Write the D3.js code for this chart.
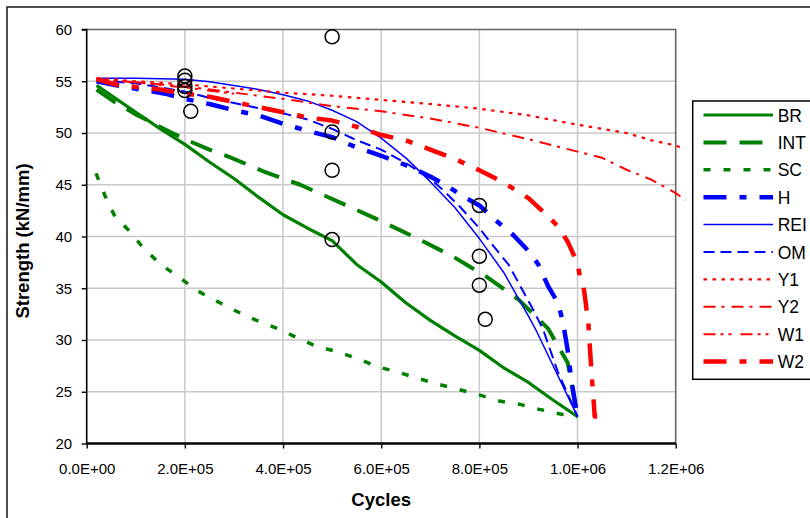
<!DOCTYPE html>
<html>
<head>
<meta charset="utf-8">
<script src="https://cdn.jsdelivr.net/npm/d3@7/dist/d3.min.js"></script>
<style>
  html, body { margin: 0; padding: 0; background: #fff; }
  svg { display: block; font-family: "Liberation Sans", Arial, sans-serif; }
</style>
</head>
<body>
<svg id="chart" width="810" height="518"></svg>
<script>
// Strength (kN/mm) against number of cycles, one array of [cycles, strength] per model
const BR  = [[2e4,54.6],[1e5,52.0],[1.5e5,50.4],[2e5,48.9],[2.5e5,47.2],[3e5,45.6],[3.5e5,43.8],[4e5,42.1],[4.5e5,40.8],[5e5,39.6],[5.5e5,37.3],[6e5,35.6],[6.5e5,33.6],[7e5,31.9],[7.5e5,30.4],[8e5,29.0],[8.5e5,27.3],[9e5,25.9],[9.5e5,24.2],[1e6,22.6]];
const INT = [[2e4,54.2],[6e4,52.9],[1e5,51.8],[1.7e5,50.1],[2.1e5,49.2],[2.5e5,48.4],[2.9e5,47.7],[3.6e5,46.3],[4e5,45.6],[4.35e5,45.0],[5.2e5,43.2],[5.9e5,41.7],[6.7e5,39.9],[7.45e5,38.1],[8.15e5,36.1],[8.8e5,33.9],[9.4e5,31.1],[9.8e5,27.8],[9.95e5,23.9],[1e6,22.6]];
const SC  = [[1.9e4,46.1],[4.1e4,43.5],[5.8e4,41.9],[9.2e4,40.3],[1.15e5,38.9],[1.51e5,37.3],[1.87e5,36.1],[2.24e5,34.8],[2.63e5,33.8],[3.04e5,32.8],[3.46e5,31.9],[3.89e5,31.1],[4.3e5,30.2],[4.67e5,29.4],[5.08e5,28.9],[5.52e5,28.2],[5.93e5,27.4],[6.34e5,26.9],[6.74e5,26.3],[7.18e5,25.7],[7.59e5,25.2],[8e5,24.7],[8.41e5,24.1],[8.81e5,23.8],[9.22e5,23.3],[9.7e5,22.8],[1e6,22.6]];
const H   = [[2e4,55.0],[6e4,54.6],[1.1e5,54.2],[1.6e5,53.8],[2e5,53.3],[2.5e5,52.8],[3e5,52.2],[3.5e5,51.7],[4e5,50.9],[4.5e5,50.2],[5e5,49.6],[5.5e5,48.6],[6e5,47.8],[6.5e5,46.9],[7e5,45.8],[7.3e5,45.0],[7.7e5,43.8],[8e5,43.0],[8.3e5,41.7],[8.7e5,40.1],[9e5,38.6],[9.2e5,37.3],[9.4e5,35.2],[9.6e5,33.6],[9.7e5,31.8],[9.8e5,29.0],[9.87e5,26.3],[9.95e5,23.9],[1e6,22.6]];
const REI = [[2e4,55.3],[1e5,55.3],[2e5,55.2],[2.5e5,54.95],[3e5,54.6],[3.5e5,54.2],[4e5,53.7],[4.5e5,53.1],[5e5,52.2],[5.5e5,51.1],[6e5,49.5],[6.5e5,47.6],[7e5,45.3],[7.5e5,42.8],[8e5,39.8],[8.5e5,36.5],[9e5,32.3],[9.17e5,30.8],[1e6,22.6]];
const OM  = [[2e4,55.1],[1e5,54.8],[1.5e5,54.4],[2e5,54.0],[2.5e5,53.4],[3e5,52.9],[3.5e5,52.4],[4e5,51.9],[4.5e5,51.3],[5e5,50.4],[5.5e5,49.3],[6e5,48.4],[6.5e5,47.1],[7e5,45.6],[7.3e5,44.3],[7.6e5,42.9],[8e5,40.8],[8.3e5,39.0],[8.6e5,37.25],[8.8e5,35.5],[9.1e5,32.9],[9.3e5,31.0],[9.6e5,26.9],[9.8e5,24.8],[1e6,22.6]];
const Y1  = [[2e4,55.3],[1e5,55.0],[2e5,54.7],[3e5,54.3],[4e5,53.9],[5e5,53.6],[6e5,53.2],[7e5,52.8],[8e5,52.35],[9e5,51.7],[1e6,50.8],[1.05e6,50.4],[1.1e6,50.0],[1.15e6,49.3],[1.2e6,48.8],[1.215e6,48.5]];
const Y2  = [[2e4,55.2],[1e5,54.9],[2e5,54.5],[3e5,53.9],[4e5,53.3],[5e5,52.6],[6e5,52.1],[7e5,51.4],[8e5,50.5],[9e5,49.4],[1e6,48.2],[1.05e6,47.6],[1.1e6,46.45],[1.15e6,45.5],[1.2e6,44.2],[1.22e6,43.5]];
const W1  = [[2e4,55.2],[1e5,54.9],[2e5,54.4],[3e5,53.8]];
const W2  = [[2e4,55.2],[6.6e4,54.6],[1.1e5,54.4],[1.5e5,54.2],[2e5,53.8],[2.5e5,53.5],[3e5,53.0],[3.5e5,52.5],[4e5,52.0],[4.5e5,51.5],[5e5,51.2],[5.5e5,50.6],[6e5,49.8],[6.5e5,49.3],[7e5,48.4],[7.5e5,47.5],[8e5,46.4],[8.5e5,45.2],[9e5,43.7],[9.3e5,42.4],[9.6e5,41.0],[9.8e5,39.5],[1e6,37.4],[1.005e6,36.1],[1.012e6,35.2],[1.015e6,34.2],[1.022e6,31.6],[1.029e6,26.5],[1.033e6,24.0],[1.035e6,22.6],[1.04e6,22.6]];

// Measured test results (open circles)
const testCycles   = [2e5, 2e5, 2e5, 2e5, 2.12e5, 5e5, 5e5, 5e5, 5e5, 8e5, 8e5, 8e5, 8.12e5];
const testStrength = [55.5, 55.1, 54.5, 54.1, 52.1, 59.3, 50.1, 46.4, 39.7, 43.0, 38.1, 35.3, 32.0];

// Axis ticks
const xTicks = [0, 2e5, 4e5, 6e5, 8e5, 1e6, 1.2e6];
const xTickLabels = ["0.0E+00", "2.0E+05", "4.0E+05", "6.0E+05", "8.0E+05", "1.0E+06", "1.2E+06"];
const yTicks = [20, 25, 30, 35, 40, 45, 50, 55, 60];
const yTickLabels = ["20", "25", "30", "35", "40", "45", "50", "55", "60"];

const seriesNames = ["BR", "INT", "SC", "H", "REI", "OM", "Y1", "Y2", "W1", "W2"];
const seriesData  = [BR, INT, SC, H, REI, OM, Y1, Y2, W1, W2];

const GREEN = "#008000", BLUE = "#0000ff", RED = "#ff0000";
const styles = {
  BR:  { color: GREEN, width: 3.2, dash: null },
  INT: { color: GREEN, width: 4,   dash: "23,13" },
  SC:  { color: GREEN, width: 3.5, dash: "7,13" },
  H:   { color: BLUE,  width: 4.5, dash: "23,13,7,13" },
  REI: { color: BLUE,  width: 1.5, dash: null },
  OM:  { color: BLUE,  width: 2,   dash: "11,6" },
  Y1:  { color: RED,   width: 2.2, dash: "3.5,5.5" },
  Y2:  { color: RED,   width: 2,   dash: "12,6,3,7" },
  W1:  { color: RED,   width: 2,   dash: "12,5,3,5,3,9" },
  W2:  { color: RED,   width: 4.5, dash: "23,13,7,13" }
};

const svg = d3.select("#chart");
const x = d3.scaleLinear().domain([0, 1.2e6]).range([86.7, 675.7]);
const y = d3.scaleLinear().domain([20, 60]).range([443.5, 29.5]);

// Outer chart frame
svg.append("rect").attr("x", 7).attr("y", 7).attr("width", 900).attr("height", 600)
  .attr("fill", "#fff").attr("stroke", "#222").attr("stroke-width", 1.6);

// Gridlines
const grid = svg.append("g");
grid.selectAll("line.h").data(yTicks.slice(1, -1)).join("line")
  .attr("x1", x(0)).attr("x2", x(1.2e6))
  .attr("y1", d => y(d)).attr("y2", d => y(d))
  .attr("stroke", "#c8c8c8").attr("stroke-width", 1.5);
grid.selectAll("line.v").data(xTicks.slice(1, -1)).join("line")
  .attr("y1", y(20)).attr("y2", y(60))
  .attr("x1", d => x(d)).attr("x2", d => x(d))
  .attr("stroke", "#c8c8c8").attr("stroke-width", 1.5);

// Plot frame, top and right
svg.append("path")
  .attr("d", `M${x(0)},${y(60)}H${x(1.2e6)}V${y(20)}`)
  .attr("fill", "none").attr("stroke", "#666").attr("stroke-width", 1.6);

// Axes
const yAxis = d3.axisLeft(y).tickValues(yTicks).tickSize(5).tickPadding(9.5)
  .tickFormat((d, i) => yTickLabels[i]);
const xAxis = d3.axisBottom(x).tickValues(xTicks).tickSize(5).tickPadding(15)
  .tickFormat((d, i) => xTickLabels[i]);

const gy = svg.append("g").attr("transform", `translate(${x(0)},0)`).call(yAxis);
gy.select(".domain").attr("stroke", "#000").attr("stroke-width", 1.6).attr("d", `M-5,${y(60)}H0V${y(20)}`);
gy.selectAll(".tick line").attr("stroke", "#000").attr("stroke-width", 1.4);
gy.selectAll(".tick text").attr("font-size", 15).attr("fill", "#000")
  .style("font-family", "'Liberation Sans', Arial, sans-serif");

const gx = svg.append("g").attr("transform", `translate(0,${y(20)})`).call(xAxis);
gx.select(".domain").attr("stroke", "#000").attr("stroke-width", 2.6).attr("d", `M${x(0)},0H${x(1.2e6)}`);
gx.selectAll(".tick line").attr("stroke", "#000").attr("stroke-width", 1.4);
gx.selectAll(".tick text").attr("font-size", 15).attr("fill", "#000")
  .style("font-family", "'Liberation Sans', Arial, sans-serif");

// Axis titles
svg.append("text").attr("x", x(6e5)).attr("y", 506).attr("text-anchor", "middle")
  .attr("font-size", 18.5).attr("font-weight", "bold").text("Cycles");
svg.append("text").attr("transform", "translate(29,241) rotate(-90)").attr("text-anchor", "middle")
  .attr("font-size", 18.5).attr("font-weight", "bold").text("Strength (kN/mm)");

// Curves
const line = d3.line().x(d => x(d[0])).y(d => y(d[1]));
const curves = svg.append("g").attr("fill", "none");
seriesNames.forEach((name, i) => {
  const s = styles[name];
  curves.append("path").datum(seriesData[i])
    .attr("d", line)
    .attr("stroke", s.color).attr("stroke-width", s.width)
    .attr("stroke-dasharray", s.dash).attr("stroke-linejoin", "round");
});

// Test results
svg.append("g").selectAll("circle").data(testCycles).join("circle")
  .attr("cx", d => x(d)).attr("cy", (d, i) => y(testStrength[i])).attr("r", 7)
  .attr("fill", "none").attr("stroke", "#000").attr("stroke-width", 1.5);

// Legend
const legend = svg.append("g");
legend.append("rect").attr("x", 692.7).attr("y", 101).attr("width", 140).attr("height", 278.3)
  .attr("fill", "#fff").attr("stroke", "#000").attr("stroke-width", 1.5);
seriesNames.forEach((name, i) => {
  const s = styles[name];
  const ly = 115 + i * 27.4;
  legend.append("line").attr("x1", 703.5).attr("x2", 773).attr("y1", ly).attr("y2", ly)
    .attr("stroke", s.color).attr("stroke-width", s.width).attr("stroke-dasharray", s.dash);
  legend.append("text").attr("x", 777.7).attr("y", ly + 6.6)
    .attr("font-size", 17.5).attr("fill", "#000").text(name);
});
</script>
</body>
</html>
